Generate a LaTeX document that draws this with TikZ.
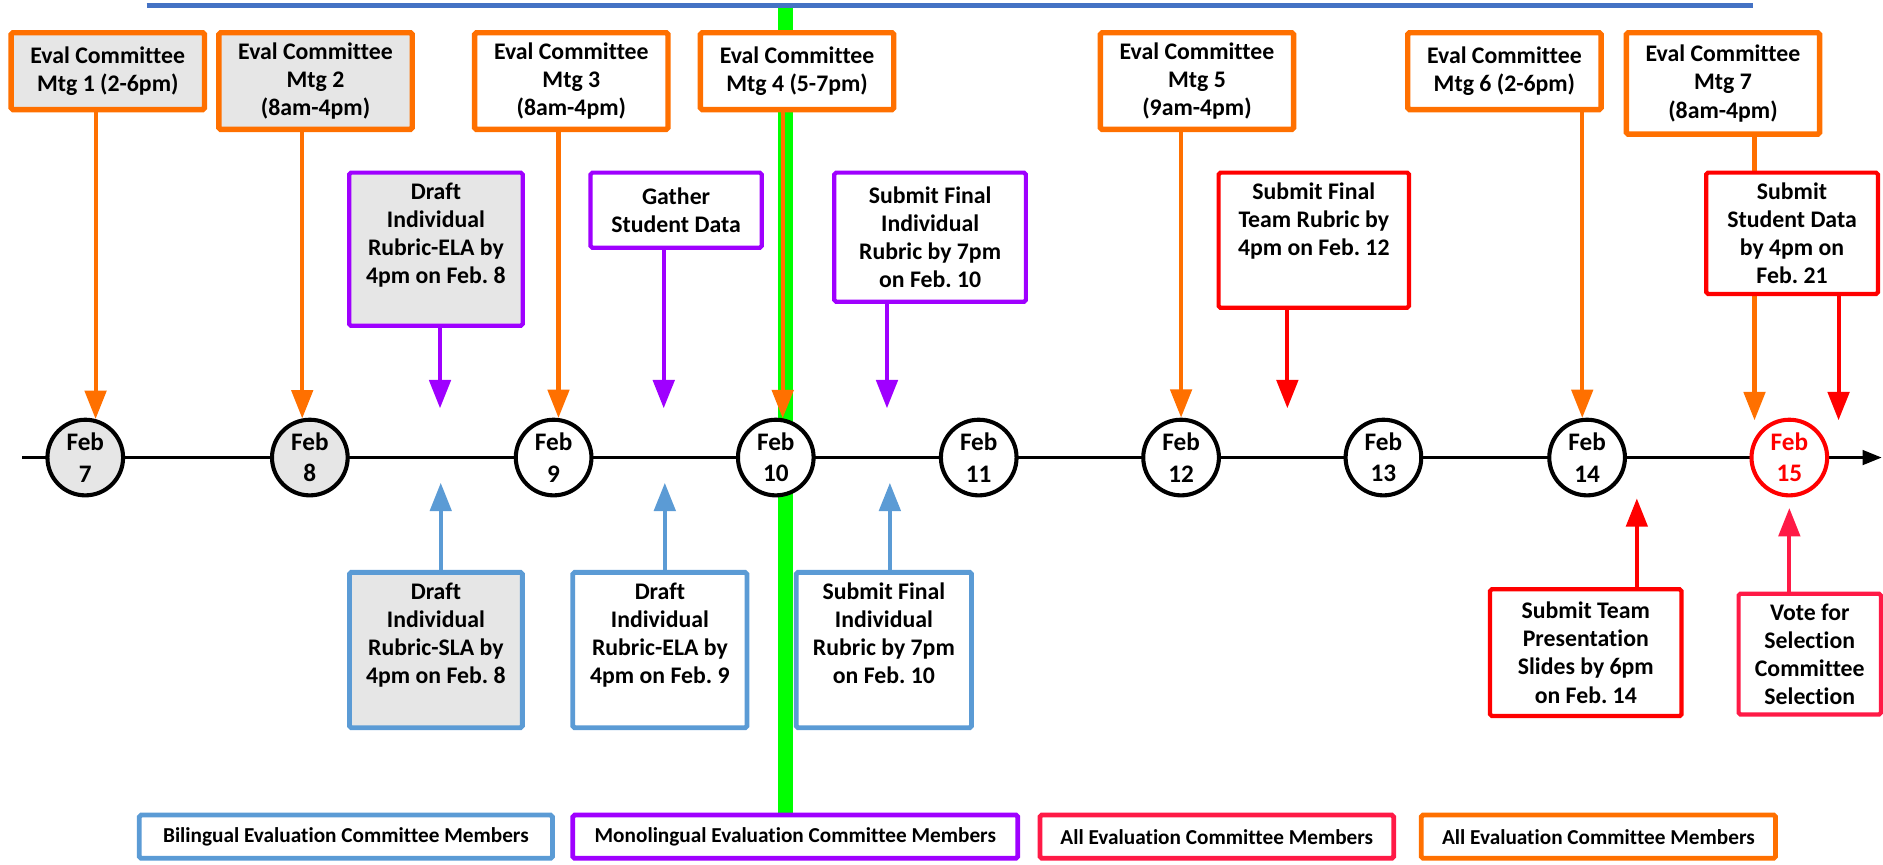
\documentclass[tikz,border=0pt]{standalone}
\usepackage{fontspec}
\setmainfont{Carlito}[Ligatures=CommonOff]
\usepackage{tikz}
\usetikzlibrary{arrows.meta}
\definecolor{evorange}{HTML}{FF7000}
\definecolor{evpurple}{HTML}{9F00FF}
\definecolor{evblue}{HTML}{5B9BD5}
\definecolor{evred}{HTML}{FF0000}
\definecolor{evcrimson}{HTML}{FF1A46}
\definecolor{evgrey}{HTML}{E6E6E6}
\definecolor{topblue}{HTML}{4472C4}
\definecolor{markgreen}{HTML}{00FF00}
\newcommand{\boxfont}{\fontsize{19.8}{23.4}\selectfont\bfseries\frenchspacing}
\newcommand{\dayfont}{\fontsize{21}{26}\selectfont\bfseries}
\newcommand{\keyfont}{\fontsize{17.7}{21}\selectfont\bfseries\frenchspacing}
\tikzstyle{evbox}=[draw, fill=white, line width=3.5pt, rounded corners=1.5pt, anchor=north west, align=center, inner sep=0pt, font=\boxfont]
\tikzstyle{mtg}=[evbox, draw=evorange, line width=4.5pt, minimum width=161pt]
\tikzstyle{mono}=[evbox, draw=evpurple]
\tikzstyle{bil}=[evbox, draw=evblue, line width=4pt]
\tikzstyle{allm}=[evbox, draw=evred]
\tikzstyle{vote}=[evbox, draw=evcrimson]
\tikzstyle{key}=[evbox, line width=4pt, minimum height=36pt, font=\keyfont]
\tikzstyle{toptext}=[text height=92.7pt]
\tikzstyle{day}=[draw, circle, fill=white, line width=3.4pt, minimum size=63pt, inner sep=0pt, align=center, font=\dayfont]
\tikzstyle{link}=[line width=3.4pt, -{Triangle[length=23.6pt,width=17.7pt]}]

\begin{document}
\begin{tikzpicture}[x=1pt, y=-1pt]
        \useasboundingbox (0,0) rectangle (1568,720);
        \coordinate (gtop) at (654,4.7);
        \coordinate (gbot) at (654,677);
        \coordinate (btop0) at (122,4.7);
        \coordinate (btop1) at (1460,4.7);
        \draw[markgreen, line width=12.9pt] (gtop) -- (gbot);
        \draw[topblue, line width=4.2pt] (btop0) -- (btop1);
        \coordinate (tl0) at (18.7,381);
        \coordinate (tl1) at (1567,381);
        \draw[line width=2.8pt, -{Triangle[length=16pt,width=12pt]}] (tl0) -- (tl1);

        \node[day, fill=evgrey] (c7) at (71,381) {Feb\\7};
        \node[day, fill=evgrey] (c8) at (258,381) {Feb\\8};
        \node[day] (c9) at (461,381) {Feb\\9};
        \node[day] (c10) at (646,381) {Feb\\10};
        \node[day] (c11) at (815,381) {Feb\\11};
        \node[day] (c12) at (983.5,381) {Feb\\12};
        \node[day] (c13) at (1152,381) {Feb\\13};
        \node[day] (c14) at (1321.6,381) {Feb\\14};
        \node[day, draw=evred, text=evred] (c15) at (1490,381) {Feb\\15};

        \node[mtg, fill=evgrey, minimum height=64pt] (m1) at (7,25) {Eval Committee\\Mtg 1 (2-6pm)};
        \node[mtg, fill=evgrey, minimum height=80.5pt] (m2) at (180,25) {Eval Committee\\Mtg 2\\(8am-4pm)};
        \node[mtg, minimum height=80.5pt] (m3) at (393,25) {Eval Committee\\Mtg 3\\(8am-4pm)};
        \node[mtg, minimum height=64pt] (m4) at (581,25) {Eval Committee\\Mtg 4 (5-7pm)};
        \node[mtg, minimum height=80.5pt] (m5) at (914,25) {Eval Committee\\Mtg 5\\(9am-4pm)};
        \node[mtg, minimum height=64pt] (m6) at (1170,25) {Eval Committee\\Mtg 6 (2-6pm)};
        \node[mtg, minimum height=84.5pt] (m7) at (1352,25) {Eval Committee\\Mtg 7\\(8am-4pm)};
        \draw[link, evorange] (m1.south -| c7.75) -- (c7.75);
        \draw[link, evorange] (m2.south -| c8.101) -- (c8.101);
        \draw[link, evorange] (m3.south -| c9.83) -- (c9.83);
        \draw[link, evorange] (m4.south -| c10.80) -- (c10.80);
        \draw[link, evorange] (m5.south -| c12.north) -- (c12.north);
        \draw[link, evorange] (m6.south -| c14.97) -- (c14.97);
        \coordinate (m7tip) at (1461,350);
        \draw[link, evorange] (m7.south -| m7tip) -- (m7tip);

        \node[mono, fill=evgrey, toptext, text depth=34.8pt, minimum width=144.5pt] (p1) at (289,142) {Draft\\Individual\\Rubric-ELA by\\4pm on Feb. 8};
        \node[mono, minimum width=142.5pt, minimum height=62.5pt] (p2) at (490,142) {Gather\\Student Data};
        \node[mono, minimum width=159.5pt, minimum height=107.5pt] (p3) at (693,142) {Submit Final\\Individual\\Rubric by 7pm\\on Feb. 10};
        \node[allm, text height=69.3pt, text depth=43.2pt, minimum width=158.5pt] (r1) at (1013,142) {Submit Final\\Team Rubric by\\4pm on Feb. 12};
        \node[allm, minimum width=143pt, minimum height=101pt] (r2) at (1419,142) {Submit\\Student Data\\by 4pm on\\Feb. 21};
        \coordinate (p1tip) at (366.4,340);
        \coordinate (p2tip) at (552.7,340);
        \coordinate (p3tip) at (738.6,340);
        \coordinate (r1tip) at (1072,340);
        \coordinate (r2tip) at (1531,350);
        \draw[link, evpurple] (p1.south -| p1tip) -- (p1tip);
        \draw[link, evpurple] (p2.south -| p2tip) -- (p2tip);
        \draw[link, evpurple] (p3.south -| p3tip) -- (p3tip);
        \draw[link, evred] (r1.south -| r1tip) -- (r1tip);
        \draw[link, evred] (r2.south -| r2tip) -- (r2tip);

        \node[bil, fill=evgrey, toptext, text depth=36.7pt, minimum width=144pt] (b1) at (289,474.6) {Draft\\Individual\\Rubric-SLA by\\4pm on Feb. 8};
        \node[bil, toptext, text depth=36.7pt, minimum width=145pt] (b2) at (475,474.6) {Draft\\Individual\\Rubric-ELA by\\4pm on Feb. 9};
        \node[bil, toptext, text depth=36.7pt, minimum width=146pt] (b3) at (661,474.6) {Submit Final\\Individual\\Rubric by 7pm\\on Feb. 10};
        \node[allm, minimum width=159.5pt, minimum height=105.5pt] (r3) at (1239,489) {Submit Team\\Presentation\\Slides by 6pm\\on Feb. 14};
        \node[vote, minimum width=118.5pt, minimum height=100.5pt] (r4) at (1446,492.7) {Vote for\\Selection\\Committee\\Selection};
        \coordinate (b1tip) at (367,402);
        \coordinate (b2tip) at (553.6,402);
        \coordinate (b3tip) at (741,402);
        \coordinate (r3tip) at (1363,415);
        \coordinate (r4tip) at (1490,423);
        \draw[link, evblue] (b1.north -| b1tip) -- (b1tip);
        \draw[link, evblue] (b2.north -| b2tip) -- (b2tip);
        \draw[link, evblue] (b3.north -| b3tip) -- (b3tip);
        \draw[link, evred] (r3.north -| r3tip) -- (r3tip);
        \draw[link, evcrimson] (r4.north -| r4tip) -- (r4tip);

        \node[key, draw=evblue, minimum width=344pt] (l1) at (114,676.7) {Bilingual Evaluation Committee Members};
        \node[key, draw=evpurple, minimum width=370.5pt] (l2) at (475,676.7) {Monolingual Evaluation Committee Members};
        \node[key, draw=evcrimson, minimum width=294.5pt] (l3) at (864,676.7) {All Evaluation Committee Members};
        \node[key, draw=evorange, minimum width=295pt] (l4) at (1181.5,676.7) {All Evaluation Committee Members};
    \end{tikzpicture}
\end{document}
